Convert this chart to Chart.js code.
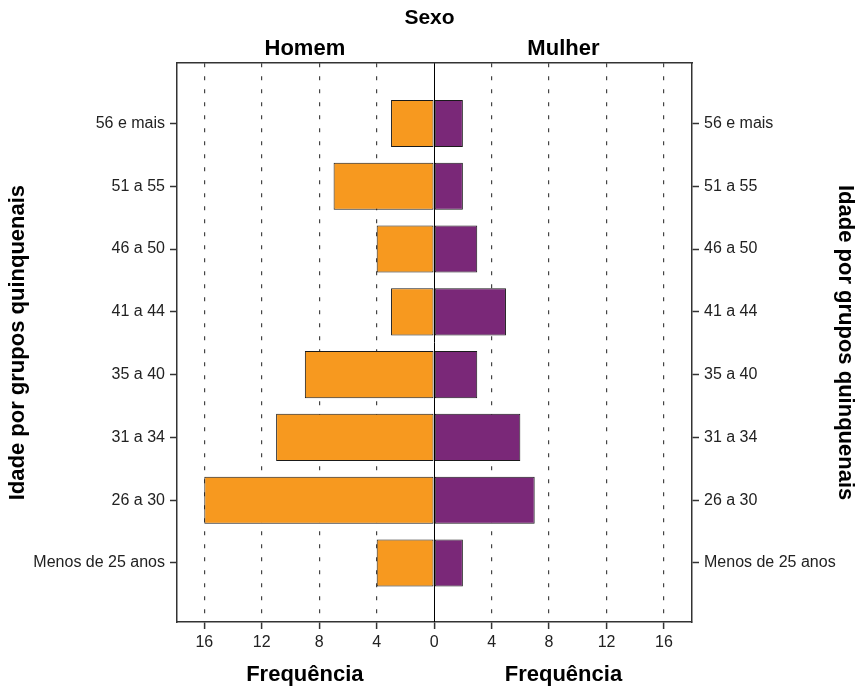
<!DOCTYPE html>
<html>
<head>
<meta charset="utf-8">
<script src="https://cdn.jsdelivr.net/npm/chart.js@4"></script>
<style>
html,body{margin:0;padding:0;background:#fff;}
#wrap{width:859px;height:689px;position:relative;}
</style>
</head>
<body>
<div id="wrap"><canvas id="c" width="859" height="689"></canvas></div>
<script>
// Data (top to bottom)
const categories = ['56 e mais','51 a 55','46 a 50','41 a 44','35 a 40','31 a 34','26 a 30','Menos de 25 anos'];
const homem = [3, 7, 4, 3, 9, 11, 16, 4];
const mulher = [2, 2, 3, 5, 3, 6, 7, 2];
const xTicks = [-16, -12, -8, -4, 0, 4, 8, 12, 16];
const sexLabels = ['Homem', 'Mulher'];
const sexPositions = [-9, 9];
const freqLabels = ['Frequência', 'Frequência'];
const freqPositions = [-9, 9];

const ORANGE = '#F7991F';
const PURPLE = '#7A2878';
const FONT = '"Liberation Sans", Arial, sans-serif';

const zeroLine = {
  id: 'zeroLine',
  afterDatasetsDraw(chart) {
    const {ctx, chartArea, scales} = chart;
    const x = Math.round(scales.x.getPixelForValue(0)) + 0.5;
    ctx.save();
    ctx.strokeStyle = '#000';
    ctx.lineWidth = 1;
    ctx.beginPath();
    ctx.moveTo(x, chartArea.top);
    ctx.lineTo(x, chartArea.bottom);
    ctx.stroke();
    ctx.restore();
  }
};

const yCommon = (pos) => ({
  type: 'linear',
  position: pos,
  min: -0.96,
  max: 7.94,
  reverse: true,
  offset: false,
  afterBuildTicks: (s) => { s.ticks = categories.map((_, i) => ({value: i})); },
  afterFit: (s) => { s.width = pos === 'left' ? 177 : 859 - 692; },
  ticks: {
    callback: (v) => categories[v],
    font: {family: FONT, size: 16},
    color: '#222',
    padding: 5
  },
  grid: {offset: false, drawOnChartArea: false, drawTicks: true, tickLength: 7, tickColor: '#333', tickWidth: 1.5},
  border: {display: true, color: '#333', width: 1.5},
  title: {
    display: true,
    text: 'Idade por grupos quinquenais',
    font: {family: FONT, size: 22, weight: 'bold'},
    color: '#000',
    padding: {top: pos === 'left' ? 5 : 1, bottom: 0}
  }
});

new Chart(document.getElementById('c'), {
  type: 'bar',
  data: {
    datasets: [
      {
        label: 'Homem',
        data: homem.map((v, i) => ({x: -v, y: i})),
        backgroundColor: ORANGE,
        borderColor: '#1a1a1a',
        borderWidth: 1,
        borderSkipped: false,
        barPercentage: 0.75,
        categoryPercentage: 1
      },
      {
        label: 'Mulher',
        data: mulher.map((v, i) => ({x: v, y: i})),
        backgroundColor: PURPLE,
        borderColor: '#1a1a1a',
        borderWidth: 1,
        borderSkipped: false,
        barPercentage: 0.75,
        categoryPercentage: 1
      }
    ]
  },
  options: {
    indexAxis: 'y',
    responsive: false,
    animation: false,
    devicePixelRatio: 1,
    layout: {padding: 0},
    plugins: {
      legend: {display: false},
      tooltip: {enabled: false},
      title: {
        display: true,
        text: 'Sexo',
        font: {family: FONT, size: 21, weight: 'bold'},
        color: '#000',
        padding: {top: 6, bottom: 0}
      }
    },
    scales: {
      x: {
        type: 'linear',
        position: 'bottom',
        weight: 0,
        min: -17.9,
        max: 17.95,
        stacked: true,
        afterBuildTicks: (s) => { s.ticks = xTicks.map(v => ({value: v})); },
        afterFit: (s) => { s.height = 30; },
        ticks: {
          callback: (v) => String(Math.abs(v)),
          font: {family: FONT, size: 16},
          color: '#222',
          padding: 4
        },
        grid: {
          drawOnChartArea: true,
          color: (ctx) => (ctx.tick && ctx.tick.value === 0) ? 'rgba(0,0,0,0)' : '#444',
          lineWidth: 1.2,
          drawTicks: true,
          tickLength: 7,
          tickColor: '#333',
          tickWidth: 1.5,
          tickBorderDash: []
        },
        border: {display: true, color: '#333', width: 1.5, dash: [4, 9], dashOffset: 0}
      },
      x2: {
        type: 'linear',
        position: 'top',
        min: -17.9,
        max: 17.95,
        afterBuildTicks: (s) => { s.ticks = sexPositions.map(v => ({value: v})); },
        afterFit: (s) => { s.height = 32; },
        ticks: {
          callback: (v, i) => sexLabels[i],
          font: {family: FONT, size: 22, weight: 'bold'},
          color: '#000',
          padding: 1,
          maxRotation: 0
        },
        grid: {drawOnChartArea: false, drawTicks: false},
        border: {display: true, color: '#333', width: 1.5}
      },
      x3: {
        type: 'linear',
        position: 'bottom',
        weight: 1,
        min: -17.9,
        max: 17.95,
        afterBuildTicks: (s) => { s.ticks = freqPositions.map(v => ({value: v})); },
        afterFit: (s) => { s.height = 37; },
        ticks: {
          callback: (v, i) => freqLabels[i],
          font: {family: FONT, size: 22, weight: 'bold'},
          color: '#000',
          padding: 10,
          maxRotation: 0
        },
        grid: {display: false, drawOnChartArea: false, drawTicks: false},
        border: {display: false}
      },
      y: Object.assign(yCommon('left'), {stacked: true}),
      y2: yCommon('right')
    }
  },
  plugins: [zeroLine]
});
</script>
</body>
</html>
